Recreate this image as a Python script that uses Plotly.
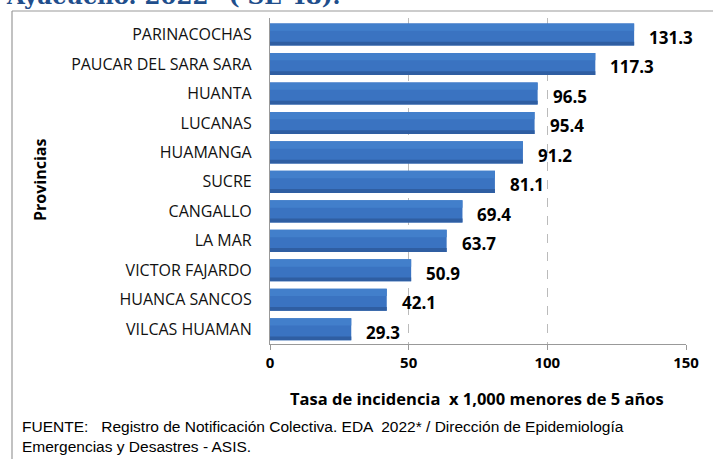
import plotly.graph_objects as go

provincias = ["PARINACOCHAS", "PAUCAR DEL SARA SARA", "HUANTA", "LUCANAS", "HUAMANGA",
              "SUCRE", "CANGALLO", "LA MAR", "VICTOR FAJARDO", "HUANCA SANCOS", "VILCAS HUAMAN"]
tasas = [131.3, 117.3, 96.5, 95.4, 91.2, 81.1, 69.4, 63.7, 50.9, 42.1, 29.3]
x_ticks = [0, 50, 100, 150]

W, H = 713, 459
L, R, T, B = 270, 27, 18, 115
pw, ph = W - L - R, H - T - B

def px_x(p):
    return (p - L) / pw

def px_y(p):
    return (H - B - p) / ph

BAR_W = 0.75
fig = go.Figure()
fig.add_trace(go.Bar(
    x=tasas, y=provincias, orientation="h",
    marker=dict(color="#3A73C1", line=dict(width=0)),
    width=BAR_W, offset=-BAR_W / 2, hoverinfo="skip",
))
# darker lower edge (gradient look)
fig.add_trace(go.Bar(
    x=tasas, y=provincias, orientation="h",
    marker=dict(color="#2F5EA2", line=dict(width=0)),
    width=0.13, offset=BAR_W / 2 - 0.13, hoverinfo="skip",
))
# lighter upper band
fig.add_trace(go.Bar(
    x=tasas, y=provincias, orientation="h",
    marker=dict(color="#427FCB", line=dict(width=0)),
    width=0.25, offset=-BAR_W / 2, hoverinfo="skip",
))

annotations = []
for v, p in zip(tasas, provincias):
    annotations.append(dict(
        x=v, y=p, xref="x", yref="y", text=f"{v:.1f}", showarrow=False,
        xanchor="left", yanchor="middle", xshift=13, yshift=-3,
        font=dict(family="Open Sans", size=17, color="#000000", weight="bold"),
    ))

annotations.append(dict(
    x=px_x(4), y=px_y(11), xref="paper", yref="paper", xanchor="left", yanchor="bottom",
    text="Ayacucho. 2022* ( SE 48).", showarrow=False,
    font=dict(family="DejaVu Serif", size=23, color="#1F4E8C", weight="bold"),
))
annotations.append(dict(
    x=px_x(40), y=px_y(180), xref="paper", yref="paper", xanchor="center", yanchor="middle",
    text="Provincias", textangle=-90, showarrow=False,
    font=dict(family="Open Sans", size=16, color="#000000", weight="bold"),
))
annotations.append(dict(
    x=px_x(477), y=px_y(398), xref="paper", yref="paper", xanchor="center", yanchor="middle",
    text="Tasa de incidencia  x 1,000 menores de 5 años", showarrow=False,
    font=dict(family="Open Sans", size=16.5, color="#000000", weight="bold"),
))
annotations.append(dict(
    x=px_x(20), y=px_y(437), xref="paper", yref="paper", xanchor="left", yanchor="middle",
    align="left",
    text="FUENTE:   Registro de Notificación Colectiva. EDA  2022* / Dirección de Epidemiología<br>Emergencias y Desastres - ASIS.",
    showarrow=False,
    font=dict(family="Liberation Sans", size=15.5, color="#000000"),
))

shapes = [
    dict(type="line", xref="paper", yref="paper", x0=px_x(12), x1=px_x(713), y0=px_y(11), y1=px_y(11),
         line=dict(color="#999999", width=1.2)),
    dict(type="line", xref="paper", yref="paper", x0=px_x(12), x1=px_x(12), y0=px_y(11), y1=px_y(460),
         line=dict(color="#999999", width=1.2)),
]

fig.update_layout(
    width=W, height=H,
    margin=dict(l=L, r=R, t=T, b=B, pad=0),
    paper_bgcolor="white", plot_bgcolor="white",
    showlegend=False, barmode="overlay",
    annotations=annotations, shapes=shapes,
    xaxis=dict(
        range=[0, 150], tickvals=x_ticks, ticktext=[str(t) for t in x_ticks],
        showgrid=True, gridcolor="#BBBBBB", griddash="dash", gridwidth=1,
        showline=True, linecolor="#999999", linewidth=1.2,
        ticks="outside", ticklen=5, tickcolor="#999999",
        tickfont=dict(family="Open Sans", size=15, color="#000000", weight="bold"),
        zeroline=False, fixedrange=True,
    ),
    yaxis=dict(
        categoryorder="array", categoryarray=provincias, autorange="reversed",
        showline=True, linecolor="#999999", linewidth=1.2,
        ticks="", ticklabelstandoff=14,
        tickfont=dict(family="Open Sans", size=16, color="#111111"),
        showgrid=False, fixedrange=True,
    ),
)

fig.write_html("out.html", config={"displayModeBar": False},
               post_script="document.body.style.margin='0';document.body.style.overflow='hidden';")
